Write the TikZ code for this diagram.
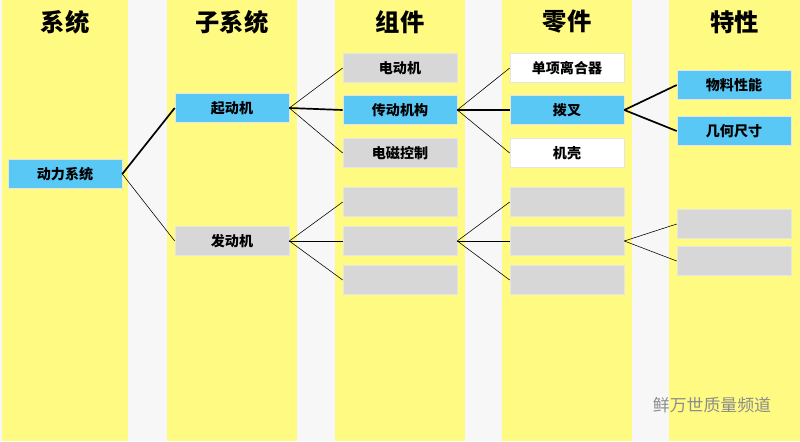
\documentclass[tikz,border=0pt]{standalone}
\usepackage{fontspec}
\newfontfamily\cjk{Noto Sans CJK SC}
\usetikzlibrary{positioning}
\definecolor{colyel}{RGB}{255,250,130}
\definecolor{boxblue}{RGB}{90,200,245}
\definecolor{boxgray}{RGB}{215,215,215}
\tikzset{
  part/.style={draw=black!10, minimum width=2.85cm, minimum height=0.73cm, inner sep=0pt, font=\cjk\bfseries\normalsize},
  hot/.style={part, fill=boxblue},
  cold/.style={part, fill=boxgray},
  plain/.style={part, fill=white},
  head/.style={font=\cjk\bfseries\LARGE},
  link/.style={draw, thin},
  hotlink/.style={draw, line width=1.2pt}
}
\begin{document}
\begin{tikzpicture}[x=0.025cm, y=-0.025cm]
    \useasboundingbox (0,0) rectangle (800,441);
    \fill[black!3] (0,0) rectangle (800,441);

    % columns
    \foreach \xl/\xr/\name in {2/128/系统, 167/297/子系统, 335/465/组件, 502/632/零件, 669/800/特性} {
        \fill[colyel] (\xl,0) rectangle (\xr,441);
        \node[head] at ({(\xl+\xr)/2},22) {\name};
    }

    % system
    \node[hot] (sys) at (65,174) {动力系统};

    % subsystem
    \node[hot] (start) at (232,108) {起动机};
    \node[cold] (engine) at (232,241) {发动机};

    % components
    \node[cold] (motor) at (400,68) {电动机};
    \node[hot] (drive) at (400,110) {传动机构};
    \node[cold] (magnet) at (400,153) {电磁控制};
    \node[cold] (c1) at (400,202) {};
    \node[cold] (c2) at (400,241) {};
    \node[cold] (c3) at (400,280) {};

    % parts
    \node[plain] (clutch) at (567,68) {单项离合器};
    \node[hot] (fork) at (567,110) {拨叉};
    \node[plain] (shell) at (567,153) {机壳};
    \node[cold] (p1) at (567,202) {};
    \node[cold] (p2) at (567,241) {};
    \node[cold] (p3) at (567,280) {};

    % properties
    \node[hot] (mat) at (734,85) {物料性能};
    \node[hot] (geo) at (734,131) {几何尺寸};
    \node[cold] (f1) at (734,224) {};
    \node[cold] (f2) at (734,261) {};

    % connectors
    \path[hotlink] (sys.east) -- (start.west);
    \path[link] (sys.east) -- (engine.west);
    \path[link] (start.east) -- (motor.west);
    \path[hotlink] (start.east) -- (drive.west);
    \path[link] (start.east) -- (magnet.west);
    \path[link] (engine.east) -- (c1.west);
    \path[link] (engine.east) -- (c2.west);
    \path[link] (engine.east) -- (c3.west);
    \path[link] (drive.east) -- (clutch.west);
    \path[hotlink] (drive.east) -- (fork.west);
    \path[link] (drive.east) -- (shell.west);
    \path[link] (c2.east) -- (p1.west);
    \path[link] (c2.east) -- (p2.west);
    \path[link] (c2.east) -- (p3.west);
    \path[hotlink] (fork.east) -- (mat.west);
    \path[hotlink] (fork.east) -- (geo.west);
    \path[link] (p2.east) -- (f1.west);
    \path[link] (p2.east) -- (f2.west);

    % watermark
    \node[font=\cjk\large, text=black!45] (mark) at (712,405) {鲜万世质量频道};
\end{tikzpicture}
\end{document}
